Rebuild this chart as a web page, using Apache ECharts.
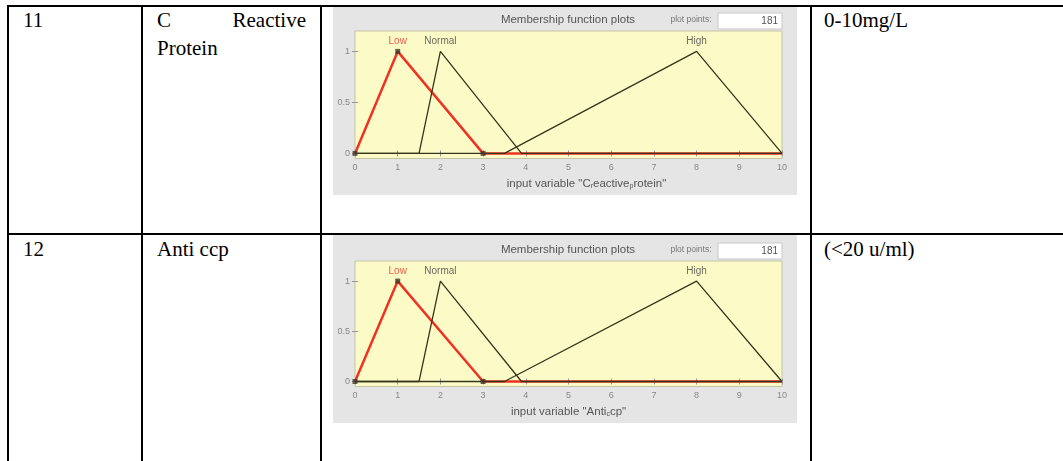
<!DOCTYPE html>
<html>
<head>
<meta charset="utf-8">
<script src="https://cdn.jsdelivr.net/npm/echarts@6/dist/echarts.min.js"></script>
<style>
  html, body { margin: 0; padding: 0; background: #fff; }
  body { width: 1063px; height: 461px; position: relative; overflow: hidden; }
  .hl, .vl { position: absolute; background: #000; }
  .cell { position: absolute; font-family: "Liberation Serif", "Times New Roman", serif; font-size: 21px; line-height: 28px; color: #000; }
  .just { text-align: justify; }
  .panel { position: absolute; width: 464px; height: 188px; }
</style>
</head>
<body>
<div id="table"></div>
<div id="chart1" class="panel" style="left:333px; top:7px;"></div>
<div id="chart2" class="panel" style="left:333px; top:235px;"></div>

<script>
// table texts
const rowNumbers = ['11', '12'];
const rowNames = ['C Reactive Protein', 'Anti ccp'];
const rowRanges = ['0-10mg/L', '(<20 u/ml)'];

// membership functions (same for both inputs)
const mfNames = ['Low', 'Normal', 'High'];
const lowX = [0, 1, 3, 10];
const lowY = [0, 1, 0, 0];
const normalX = [0, 1.5, 2, 3.9, 10];
const normalY = [0, 0, 1, 0, 0];
const highX = [0, 3.5, 8, 10];
const highY = [0, 0, 1, 0];
const mfPeaks = [1, 2, 8];
const yTicks = [0, 0.5, 1];
const plotPoints = 181;

// table lines + text
const table = document.getElementById('table');
const add = (cls, style, text) => {
  const d = document.createElement('div');
  d.className = cls;
  d.style.cssText = style;
  if (text) d.textContent = text;
  table.appendChild(d);
};
add('hl', 'left:7px; top:5px; width:1056px; height:2px;');
add('hl', 'left:7px; top:233px; width:1056px; height:2px;');
[7, 141, 320, 810].forEach(x => add('vl', `left:${x}px; top:5px; width:2px; height:456px;`));
const rowTops = [6, 235];
rowTops.forEach((t, i) => {
  add('cell', `left:23px; top:${t}px;`, rowNumbers[i]);
  add('cell just', `left:157px; top:${t}px; width:149px;`, rowNames[i]);
  add('cell', `left:824px; top:${t}px;`, rowRanges[i]);
});

const zip = (xs, ys) => xs.map((x, i) => [x, ys[i]]);

const makeOption = (xName, namePad, gridTop, gridBottom, titleY, boxY) => ({
  animation: false,
  backgroundColor: '#e5e5e5',
  graphic: [
    { type: 'text', x: 235, y: titleY, style: { text: 'Membership function plots', font: '11.5px "Liberation Sans", Arial, sans-serif', fill: '#555', align: 'center', verticalAlign: 'middle' } },
    { type: 'text', x: 358, y: titleY, style: { text: 'plot points:', font: '8.5px "Liberation Sans", Arial, sans-serif', fill: '#777', align: 'center', verticalAlign: 'middle' } },
    { type: 'rect', shape: { x: 385, y: boxY, width: 64, height: 16 }, style: { fill: '#fff', stroke: '#c8c8c8', lineWidth: 1 } },
    { type: 'text', x: 445, y: boxY + 8, style: { text: String(plotPoints), font: '10px "Liberation Sans", Arial, sans-serif', fill: '#555', align: 'right', verticalAlign: 'middle' } }
  ],
  grid: {
    left: 22, right: 15, top: gridTop, bottom: gridBottom,
    show: true, backgroundColor: '#fcfbc8', borderColor: '#c4c4a4', borderWidth: 1
  },
  xAxis: [
    {
      type: 'value', min: 0, max: 10, interval: 1, position: 'bottom',
      axisLine: { show: false },
      axisTick: { inside: true, length: 3, lineStyle: { color: '#999' } },
      axisLabel: { fontSize: 9, color: '#888', margin: 5, fontFamily: 'Liberation Sans' },
      splitLine: { show: false },
      name: xName, nameLocation: 'middle', nameGap: 19,
      nameTextStyle: {
        padding: [0, 0, 0, namePad],
        rich: {
          t: { fontSize: 11.5, color: '#555', fontFamily: 'Liberation Sans', lineHeight: 13 },
          s: { fontSize: 7, color: '#555', fontFamily: 'Liberation Sans', padding: [5, 0, 0, 0], lineHeight: 13 }
        }
      }
    },
    {
      type: 'value', min: 0, max: 10, interval: 1, position: 'top',
      axisLine: { show: false },
      axisTick: { inside: true, length: 3, lineStyle: { color: '#999' } },
      axisLabel: { show: false }, splitLine: { show: false }
    }
  ],
  yAxis: [
    {
      type: 'value', min: -0.05, max: 1.2, position: 'left',
      axisLine: { show: false },
      axisTick: { inside: true, length: 3, customValues: yTicks, lineStyle: { color: '#999' } },
      axisLabel: { customValues: yTicks, fontSize: 9, color: '#888', margin: 5, fontFamily: 'Liberation Sans' },
      splitLine: { show: false }
    },
    {
      type: 'value', min: -0.05, max: 1.2, position: 'right',
      axisLine: { show: false },
      axisTick: { inside: true, length: 3, customValues: yTicks, lineStyle: { color: '#999' } },
      axisLabel: { show: false }, splitLine: { show: false }
    }
  ],
  series: [
    {
      type: 'line', data: zip(lowX, lowY), symbol: 'none', z: 2,
      lineStyle: { color: '#ee3322', width: 2.5 }
    },
    {
      type: 'line', data: zip(normalX, normalY), symbol: 'none', z: 3,
      lineStyle: { color: '#35351a', width: 1.3 }
    },
    {
      type: 'line', data: zip(highX, highY), symbol: 'none', z: 3,
      lineStyle: { color: '#35351a', width: 1.3 }
    },
    {
      // vertices of the selected MF
      type: 'scatter', data: zip(lowX.slice(0, 3), lowY.slice(0, 3)), symbol: 'rect', symbolSize: 5, z: 4,
      itemStyle: { color: '#3d3a2a' }
    },
    {
      type: 'scatter', symbolSize: 0, z: 5,
      data: mfPeaks.map((p, i) => ({
        value: [p, 1], name: mfNames[i],
        label: { color: i === 0 ? '#ee3322' : '#444' }
      })),
      label: { show: true, position: 'top', distance: 5, formatter: '{b}', fontSize: 10, fontFamily: 'Liberation Sans' }
    }
  ]
});

const chart1 = echarts.init(document.getElementById('chart1'));
chart1.setOption(makeOption('{t|input variable "C}{s|r}{t|eactive}{s|p}{t|rotein"}', 36, 24, 28, 13, 6));

const chart2 = echarts.init(document.getElementById('chart2'));
chart2.setOption(makeOption('{t|input variable "Anti}{s|c}{t|cp"}', 0, 26, 30, 15, 8));
</script>
</body>
</html>
